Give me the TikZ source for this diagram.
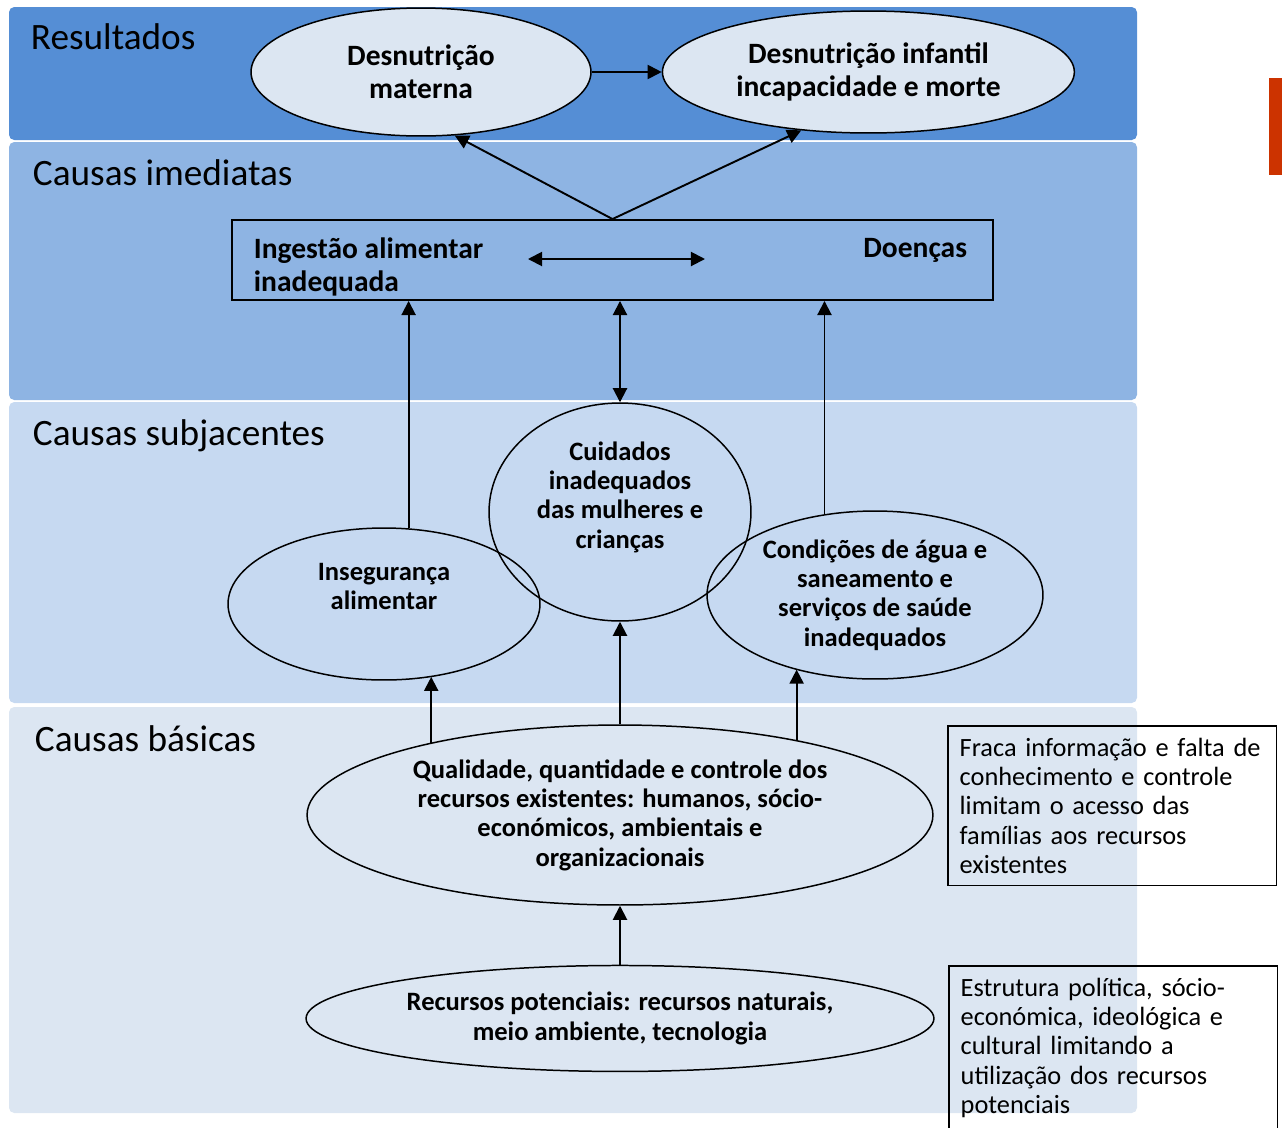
\documentclass[tikz,border=0pt]{standalone}
\usepackage{fontspec}
\setmainfont{Carlito}
\usetikzlibrary{shapes.geometric,positioning,arrows.meta}
\definecolor{bandone}{RGB}{85,142,213}
\definecolor{bandtwo}{RGB}{142,180,227}
\definecolor{bandthree}{RGB}{198,217,241}
\definecolor{bandfour}{RGB}{220,230,242}
\definecolor{barorange}{RGB}{204,51,0}

\begin{document}
\begin{tikzpicture}[x=0.02cm, y=-0.02cm, ->, >={Triangle[length=8pt,width=8pt]}, line width=1.1pt,
    big node/.style={ellipse, draw, line width=0.85pt, fill=bandfour, align=center, font=\bfseries\fontsize{16.8}{19}\selectfont},
    small node/.style={ellipse, draw, line width=0.85pt, align=center, font=\bfseries\fontsize{15.1}{16.7}\selectfont},
    note node/.style={draw, line width=0.85pt, anchor=north west, inner sep=6.8pt, text width=6.1cm, align=left, font=\fontsize{15}{16.7}\selectfont},
    band label/.style={anchor=base west, font=\fontsize{21.2}{25}\selectfont}]
           \tikzstyle{every node}=[inner sep=0pt]
           \useasboundingbox (0,0) rectangle (1282,1127);

           % bands
           \fill[bandone, rounded corners=3pt] (9,7) rectangle (1137,140);
           \fill[bandtwo, rounded corners=3pt] (9,142) rectangle (1137,400);
           \fill[bandthree, rounded corners=3pt] (9,402) rectangle (1137,703);
           \fill[bandfour, rounded corners=3pt] (9,707) rectangle (1137,1113);
           \fill[barorange] (1269,78) rectangle (1282,175);

             \node[band label] (15) at (30,49) {Resultados};
             \node[band label] (16) at (32,185) {Causas imediatas};
             \node[band label] (17) at (32,445) {Causas subjacentes};
             \node[band label] (18) at (34,751) {Causas básicas};

             \node[big node, minimum width=6.8cm, minimum height=2.56cm] (1) at (421,72) {Desnutrição\\materna};
             \node[big node, minimum width=8.24cm, minimum height=2.44cm] (2) [right=1.4cm of 1] {Desnutrição infantil\\incapacidade e morte};

             \node[draw, line width=1.1pt, minimum width=15.22cm, minimum height=1.6cm] (3) at (612.5,260) {};
             \node[anchor=north west, align=left, font=\bfseries\fontsize{16.8}{18.7}\selectfont] (4) at (253,237) {Ingestão alimentar\\inadequada};
             \node[anchor=north east, font=\bfseries\fontsize{16.8}{18.7}\selectfont] (5) at (968,237) {Doenças};
             \coordinate (13) at (528,259);
             \coordinate (14) at (705,259);

             \node[small node, minimum width=6.24cm, minimum height=3.04cm] (6) at (384,604) {Insegurança\\alimentar\\[3pt]\mbox{}};
             \node[small node, minimum width=5.24cm, minimum height=4.36cm] (7) at (620,512) {Cuidados\\inadequados\\das mulheres e\\crianças\\[3pt]\mbox{}};
             \node[small node, minimum width=6.72cm, minimum height=3.36cm] (8) at (875,595) {Condições de água e\\saneamento e\\serviços de saúde\\inadequados};
             \node[small node, minimum width=12.52cm, minimum height=3.6cm] (9) at (620,815) {Qualidade, quantidade e controle dos\\recursos existentes: humanos, sócio-\\económicos, ambientais e\\organizacionais};
             \node[small node, minimum width=12.56cm, minimum height=2.12cm] (10) [below=1.18cm of 9] {Recursos potenciais: recursos naturais,\\meio ambiente, tecnologia};

             \node[note node] (11) at (947,725) {Fraca informação e falta de\\conhecimento e controle\\limitam o acesso das\\famílias aos recursos\\existentes};
             \node[note node] (12) at (948,965) {Estrutura política, sócio-\\económica, ideológica e\\cultural limitando a\\utilização dos recursos\\potenciais\\\mbox{}};

             \path (1) edge (2);
             \path (3.north) edge (1.-62)
                             edge (2.-139);
             \path[<->] (13) edge (14);
             \path (6.72) edge (6.72 |- 3.south);
             \path[<->] (7.north) edge (7.north |- 3.south);
             \path (8.122) edge (8.122 |- 3.south);
             \path (9.159) edge (9.159 |- 6.-56)
                   (9) edge (7)
                   (9.23) edge (9.23 |- 8.-137);
             \path (10) edge (9);

           \end{tikzpicture}
\end{document}
